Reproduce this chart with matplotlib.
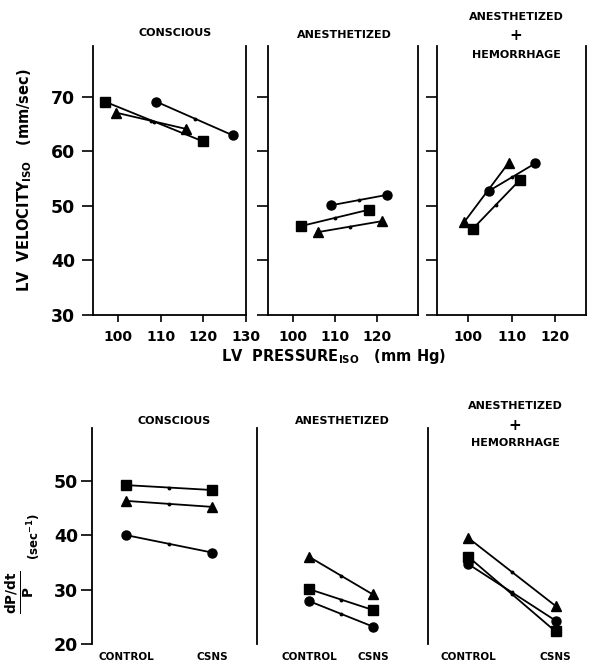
import matplotlib
matplotlib.use("Agg")
import matplotlib.pyplot as plt

# ---- top row : LV velocity vs LV pressure (start point, end point) ----
cons_circ_x = [109, 127];      cons_circ_y = [69.1, 62.9]
cons_sq_x = [97, 120];         cons_sq_y = [69.1, 61.8]
cons_tri_x = [99.5, 116];      cons_tri_y = [67.1, 64.1]

anes_circ_x = [109, 122.3];    anes_circ_y = [50.1, 52.0]
anes_sq_x = [101.9, 118.1];    anes_sq_y = [46.3, 49.3]
anes_tri_x = [106, 121.2];     anes_tri_y = [45.2, 47.2]

hem_circ_x = [104.7, 115.4];   hem_circ_y = [52.7, 57.8]
hem_sq_x = [101.1, 111.8];     hem_sq_y = [45.8, 54.7]
hem_tri_x = [99.1, 109.3];     hem_tri_y = [47.0, 57.9]

# ---- bottom row : dP/dt / P, control vs CSNS ----
conditions = ["CONTROL", "CSNS"]
b_cons_sq = [49.2, 48.3];  b_cons_tri = [46.3, 45.2];  b_cons_circ = [40.0, 36.8]
b_anes_sq = [30.1, 26.25]; b_anes_tri = [36.05, 29.1]; b_anes_circ = [27.9, 23.2]
b_hem_sq = [36.05, 22.3];  b_hem_tri = [39.5, 27.0];   b_hem_circ = [34.7, 24.3]

W, H = 594, 663
fig = plt.figure(figsize=(W / 100, H / 100), dpi=100)

def rect(x0, x1, ytop, ybot):
    # pixel box -> figure fraction
    return [x0 / W, (H - ybot) / H, (x1 - x0) / W, (ybot - ytop) / H]

def px(x, y):
    return x / W, 1 - y / H

def seg(ax, x, y, mk, ms):
    ax.plot(x, y, color="black", lw=1.3, zorder=2)
    ax.plot([(x[0] + x[1]) / 2], [(y[0] + y[1]) / 2], "o", color="black", ms=1.8, zorder=3)
    ax.plot(x, y, mk, color="black", ms=ms, ls="none", zorder=4)

tick_font = dict(fontsize=12.5, fontweight="bold")

# top panels
top_specs = [
    (rect(93, 246, 46, 315), (94.2, 130), [100, 110, 120, 130],
     [(cons_circ_x, cons_circ_y), (cons_sq_x, cons_sq_y), (cons_tri_x, cons_tri_y)]),
    (rect(268, 418, 46, 315), (94, 129.8), [100, 110, 120],
     [(anes_circ_x, anes_circ_y), (anes_sq_x, anes_sq_y), (anes_tri_x, anes_tri_y)]),
    (rect(437, 586, 46, 315), (92.9, 127), [100, 110, 120],
     [(hem_circ_x, hem_circ_y), (hem_sq_x, hem_sq_y), (hem_tri_x, hem_tri_y)]),
]
for i, (r, xl, xt, series) in enumerate(top_specs):
    ax = fig.add_axes(r)
    ax.set_xlim(*xl)
    ax.set_ylim(30, 79.3)
    ax.spines["top"].set_visible(False)
    for s in ax.spines.values():
        s.set_linewidth(1.3)
    ax.set_xticks(xt)
    ax.set_xticklabels([str(v) for v in xt], fontsize=10, fontweight="bold")
    ax.set_yticks([30, 40, 50, 60, 70])
    ax.tick_params(axis="x", length=5, width=1.2, pad=6)
    ax.tick_params(axis="y", length=8, width=1.2, pad=5)
    if i == 0:
        ax.set_yticklabels(["30", "40", "50", "60", "70"], **tick_font)
    else:
        ax.set_yticklabels([])
    for (x, y), mk, ms in zip(series, ["o", "s", "^"], [6.5, 7.5, 7.5]):
        seg(ax, x, y, mk, ms)

# bottom panels
bot_specs = [
    (rect(92, 257, 428, 644), (-0.4, 1.52), [b_cons_circ, b_cons_sq, b_cons_tri]),
    (rect(257, 428, 428, 644), (-0.81, 1.86), [b_anes_circ, b_anes_sq, b_anes_tri]),
    (rect(428, 594, 428, 644), (-0.46, 1.44), [b_hem_circ, b_hem_sq, b_hem_tri]),
]
xpos = list(range(len(conditions)))
for i, (r, xl, series) in enumerate(bot_specs):
    ax = fig.add_axes(r)
    ax.set_xlim(*xl)
    ax.set_ylim(20, 59.7)
    for side in ["top", "right", "bottom"]:
        ax.spines[side].set_visible(False)
    ax.spines["left"].set_linewidth(1.3)
    ax.set_xticks(xpos)
    ax.set_xticklabels(conditions, fontsize=7.5, fontweight="heavy")
    ax.tick_params(axis="x", length=0, pad=6)
    ax.set_yticks([20, 30, 40, 50])
    if i == 0:
        ax.set_yticklabels(["20", "30", "40", "50"], **tick_font)
        ax.tick_params(axis="y", length=8, width=1.2, pad=2)
    else:
        ax.set_yticks([])
    for y, mk, ms in zip(series, ["o", "s", "^"], [6.5, 7.5, 7.5]):
        seg(ax, xpos, y, mk, ms)

# titles
title_font = dict(fontsize=8, fontweight="bold", ha="center", va="center")
fig.text(*px(175, 33), "CONSCIOUS", **title_font)
fig.text(*px(344, 35), "ANESTHETIZED", **title_font)
fig.text(*px(516, 17), "ANESTHETIZED", **title_font)
fig.text(*px(516, 35), "+", fontsize=11, fontweight="bold", ha="center", va="center")
fig.text(*px(516, 55), "HEMORRHAGE", **title_font)

fig.text(*px(174, 421), "CONSCIOUS", **title_font)
fig.text(*px(342, 421), "ANESTHETIZED", **title_font)
fig.text(*px(515, 406), "ANESTHETIZED", **title_font)
fig.text(*px(515, 425), "+", fontsize=11, fontweight="bold", ha="center", va="center")
fig.text(*px(515, 443), "HEMORRHAGE", **title_font)

# axis labels
fig.text(*px(334, 356), r"LV  PRESSURE$_{\mathbf{ISO}}$   (mm Hg)", fontsize=10.5,
         fontweight="bold", ha="center", va="center")
fig.text(*px(25, 180), r"LV  VELOCITY$_{\mathbf{ISO}}$   (mm/sec)", fontsize=10.5,
         fontweight="bold", ha="center", va="center", rotation=90)
fig.text(*px(20, 592), r"$\frac{\mathbf{dP/dt}}{\mathbf{P}}$", fontsize=14,
         ha="center", va="center", rotation=90)
fig.text(*px(34, 537), r"$\mathbf{(sec^{-1})}$", fontsize=8.5,
         ha="center", va="center", rotation=90)

fig.savefig("out.png", dpi=100)
